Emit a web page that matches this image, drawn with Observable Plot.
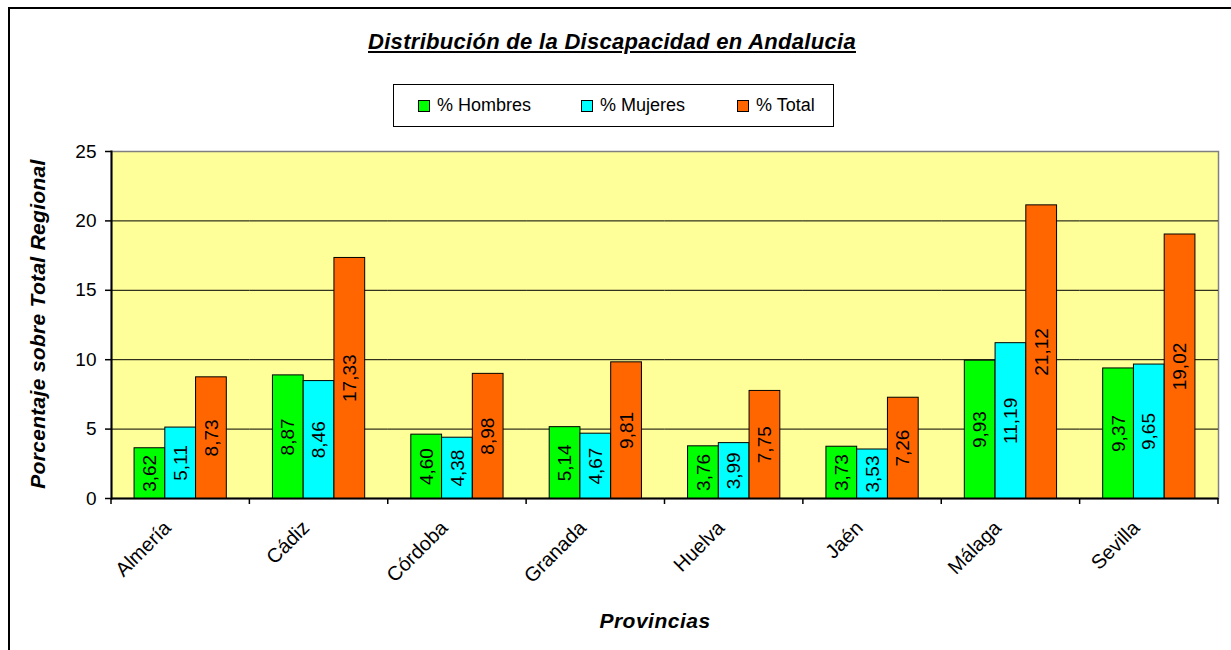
<!DOCTYPE html>
<html><head><meta charset="utf-8">
<script src="https://cdn.jsdelivr.net/npm/d3@7"></script>
<script src="https://cdn.jsdelivr.net/npm/@observablehq/plot@0.6"></script>
<style>
body{margin:0;background:#fff;font-family:"Liberation Sans",Arial,sans-serif;color:#000;}
#wrap{position:relative;width:1231px;height:650px;overflow:hidden;}
#border{position:absolute;left:8px;top:7px;width:1240px;height:660px;border-left:2px solid #000;border-top:2px solid #000;}
#chart{position:absolute;left:0;top:0;}
#title{position:absolute;left:0;width:1224px;top:29px;text-align:center;font-weight:bold;font-style:italic;text-decoration:underline;font-size:22px;letter-spacing:0.3px;}
#legend{position:absolute;left:393px;top:84px;width:441px;height:43px;border:1px solid #000;box-sizing:border-box;background:#fff;}
.li{position:absolute;top:10px;font-size:18px;white-space:nowrap;}
.sw{display:inline-block;width:10px;height:10px;border:1px solid #000;margin-right:7px;vertical-align:-1px;}
#ylab{position:absolute;left:38px;top:324px;transform:translate(-50%,-50%) rotate(-90deg);font-weight:bold;font-style:italic;font-size:21px;letter-spacing:0.3px;white-space:nowrap;}
#xlab{position:absolute;left:655px;top:609px;transform:translateX(-50%);font-weight:bold;font-style:italic;font-size:21px;letter-spacing:0.5px;white-space:nowrap;}
</style></head>
<body>
<div id="wrap">
  <div id="border"></div>
  <div id="chart"></div>
  <div id="title"></div>
  <div id="legend"></div>
  <div id="ylab"></div>
  <div id="xlab"></div>
</div>
<script>
const titulo = "Distribución de la Discapacidad en Andalucia";
const ejeY = "Porcentaje sobre Total Regional";
const ejeX = "Provincias";
const provincias = ["Almería", "Cádiz", "Córdoba", "Granada", "Huelva", "Jaén", "Málaga", "Sevilla"];
const series = ["% Hombres", "% Mujeres", "% Total"];
const hombres = [3.62, 8.87, 4.60, 5.14, 3.76, 3.73, 9.93, 9.37];
const mujeres = [5.11, 8.46, 4.38, 4.67, 3.99, 3.53, 11.19, 9.65];
const total = [8.73, 17.33, 8.98, 9.81, 7.75, 7.26, 21.12, 19.02];
const colores = ["#00FF00", "#00FFFF", "#FF6600"];
const yTicks = [0, 5, 10, 15, 20, 25];

const valores = [hombres, mujeres, total];
const data = provincias.flatMap((p, i) => series.map((s, k) => ({provincia: p, serie: s, valor: valores[k][i]})));
const fmt = v => d3.format(".2f")(v).replace(".", ",");

document.getElementById("title").textContent = titulo;
document.getElementById("ylab").textContent = ejeY;
document.getElementById("xlab").textContent = ejeX;
const legendX = [24, 187, 343];
const lg = document.getElementById("legend");
series.forEach((s, k) => {
  const d = document.createElement("div");
  d.className = "li";
  d.style.left = legendX[k] + "px";
  d.innerHTML = `<span class="sw" style="background:${colores[k]}"></span>${s}`;
  lg.appendChild(d);
});

const plot = Plot.plot({
  width: 1231, height: 650,
  marginLeft: 111, marginRight: 13, marginTop: 151, marginBottom: 152,
  style: {fontFamily: "'Liberation Sans', Arial, sans-serif", fontSize: "18px", color: "#000", background: "transparent", overflow: "visible"},
  fx: {domain: provincias, padding: 0, round: false, label: null},
  x: {domain: series, paddingInner: 0, paddingOuter: 0.75, round: false, axis: null},
  y: {domain: [0, 25], label: null},
  color: {domain: series, range: colores},
  marks: [
    Plot.frame({fill: "#FFFF99", stroke: "#808080", strokeWidth: 1.5, facet: "super"}),
    Plot.ruleY(yTicks.slice(1, -1), {stroke: "#000", strokeWidth: 1}),
    Plot.axisY({ticks: yTicks, tickSize: 6, tickPadding: 9, tickFormat: d => d, fontSize: 19, strokeWidth: 1.5, facetAnchor: "left"}),
    Plot.frame({anchor: "left", stroke: "#000", strokeWidth: 2, facet: "super"}),
    Plot.ruleY([0], {stroke: "#000", strokeWidth: 2}),
    Plot.barY(data, {fx: "provincia", x: "serie", y: "valor", fill: "serie", stroke: "#000", strokeWidth: 1}),
    Plot.text(data, {fx: "provincia", x: "serie", y: d => d.valor / 2, text: d => fmt(d.valor), rotate: -90, fontSize: 19, fill: "#000"}),
    Plot.axisFx({anchor: "bottom", tickSize: 0, tickRotate: -45, tickPadding: 26, dx: -13, fontSize: 20})
  ]
});
document.getElementById("chart").appendChild(plot);

// category boundary tick marks, from the fx scale
const fxs = plot.scale("fx");
const y0 = plot.scale("y").apply(0);
const svg = d3.select(plot);
const g = svg.append("g").attr("stroke", "#000").attr("stroke-width", 1.5);
for (let i = 0; i <= provincias.length; i++) {
  const xb = fxs.range[0] + i * fxs.step;
  g.append("line").attr("x1", xb).attr("x2", xb).attr("y1", y0).attr("y2", y0 + 6);
}
</script>
</body></html>
